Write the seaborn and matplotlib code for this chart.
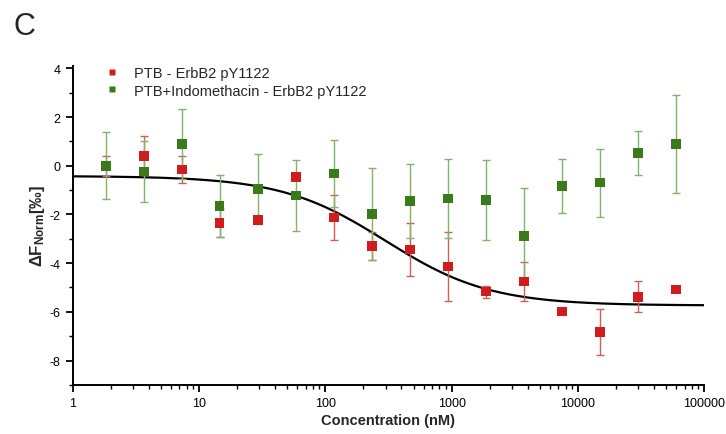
import numpy as np
import pandas as pd
import matplotlib
matplotlib.use("Agg")
import matplotlib.pyplot as plt
import matplotlib.ticker as mticker
import seaborn as sns

# concentrations (nM), 1:1 dilution series
conc = [1.83, 3.66, 7.32, 14.6, 29.3, 58.6, 117, 234, 469, 938,
        1875, 3750, 7500, 15000, 30000, 60000]

# PTB - ErbB2 pY1122
ptb_mean = [0.0, 0.41, -0.16, -2.35, -2.22, -0.45, -2.13, -3.29, -3.44, -4.14,
            -5.17, -4.76, -5.98, -6.82, -5.38, -5.09]
ptb_err = [0.4, 0.8, 0.55, 0.56, 0.1, 0.0, 0.93, 0.57, 1.09, 1.4,
           0.25, 0.81, 0.0, 0.94, 0.63, 0.0]

# PTB+Indomethacin - ErbB2 pY1122
indo_mean = [0.0, -0.23, 0.89, -1.65, -0.96, -1.22, -0.32, -1.99, -1.45, -1.34,
             -1.40, -2.89, -0.84, -0.69, 0.52, 0.90]
indo_err = [1.38, 1.25, 1.44, 1.27, 1.44, 1.45, 1.38, 1.88, 1.53, 1.63,
            1.65, 1.96, 1.12, 1.40, 0.91, 2.0]

# fitted dose-response curve for PTB
fit_top, fit_bottom, fit_ec50, fit_hill = -0.42, -5.74, 300.0, 1.05

x_ticks = [1, 10, 100, 1000, 10000, 100000]

sns.set_style("ticks")
plt.rcParams['font.family'] = ['Liberation Sans', 'DejaVu Sans']
plt.rcParams['mathtext.fontset'] = 'custom'
plt.rcParams['mathtext.rm'] = 'Liberation Sans'
plt.rcParams['mathtext.bf'] = 'Liberation Sans:bold'
plt.rcParams['axes.unicode_minus'] = False

red = '#d01c1c'
green = '#3a7a1a'
red_err = '#c9605a'
green_err = '#83b26c'

df = pd.concat([
    pd.DataFrame({'conc': conc, 'value': ptb_mean, 'err': ptb_err,
                  'series': 'PTB - ErbB2 pY1122'}),
    pd.DataFrame({'conc': conc, 'value': indo_mean, 'err': indo_err,
                  'series': 'PTB+Indomethacin - ErbB2 pY1122'}),
])

fig = plt.figure(figsize=(7.26, 4.35), dpi=100)
ax = fig.add_axes([0.1, 0.113, 0.87, 0.733])

xs = np.logspace(0, 5, 300)
fit = fit_bottom + (fit_top - fit_bottom) / (1 + (xs / fit_ec50) ** fit_hill)
sns.lineplot(x=xs, y=fit, color='black', lw=1.6, ax=ax, zorder=2)

for sub, ecol in zip([df[df.series == 'PTB - ErbB2 pY1122'],
                      df[df.series == 'PTB+Indomethacin - ErbB2 pY1122']],
                     [red_err, green_err]):
    keep = sub[sub.err > 0]
    ax.errorbar(keep.conc, keep.value, yerr=keep.err, fmt='none', ecolor=ecol,
                elinewidth=1.0, capsize=3, capthick=1.0, zorder=3)

sns.scatterplot(data=df, x='conc', y='value', hue='series',
                palette=[red, green], marker='s', s=48, edgecolor='none',
                ax=ax, zorder=4)

ax.set_xscale('log')
ax.set_xlim(1, 100000)
ax.set_ylim(-9, 4.1)
ax.set_xticks(x_ticks)
ax.xaxis.set_major_formatter(mticker.FuncFormatter(lambda v, p: f"{int(round(v))}"))
ax.xaxis.set_minor_locator(mticker.LogLocator(base=10, subs=np.arange(2, 10)))
ax.xaxis.set_minor_formatter(mticker.NullFormatter())
ax.set_yticks([-8, -6, -4, -2, 0, 2, 4])
ax.yaxis.set_minor_locator(mticker.MultipleLocator(1))

for side in ['top', 'right']:
    ax.spines[side].set_visible(False)
for side in ['left', 'bottom']:
    ax.spines[side].set_linewidth(1.4)
    ax.spines[side].set_color('black')
ax.tick_params(which='major', length=5, width=1.3, labelsize=9, colors='black')
ax.tick_params(which='minor', length=3, width=1.0, colors='black')

ax.set_xlabel('Concentration (nM)', fontsize=10.5, fontweight='bold', labelpad=3)
ax.set_ylabel(r'$\mathbf{\Delta F_{Norm}}$[‰]', fontsize=12, fontweight='bold', labelpad=2)

leg = ax.legend(loc='upper left', bbox_to_anchor=(0.018, 1.04), frameon=False,
                fontsize=10.5, handletextpad=0.5, labelspacing=0.22,
                markerscale=0.7)

fig.text(0.018, 0.92, 'C', fontsize=22)

fig.savefig('out.png', dpi=100)
